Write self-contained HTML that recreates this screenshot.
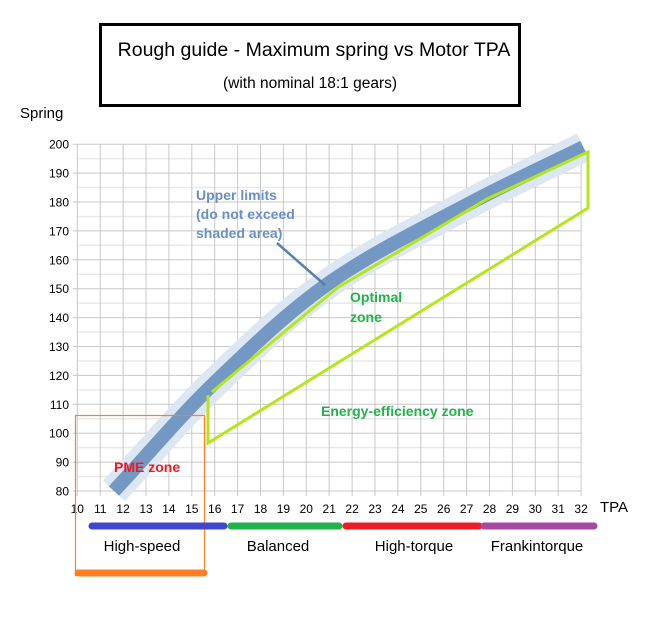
<!DOCTYPE html>
<html><head><meta charset="utf-8"><style>
html,body{margin:0;padding:0;background:#fff;}
svg{display:block;font-family:"Liberation Sans",Arial,sans-serif;}
</style></head><body>
<svg width="659" height="625" viewBox="0 0 659 625" xmlns="http://www.w3.org/2000/svg">
<rect width="659" height="625" fill="#fff"/>
<rect x="100.5" y="24.5" width="419" height="81" fill="#fff" stroke="#000" stroke-width="3"/>
<text x="314" y="56" font-size="19.5" text-anchor="middle" fill="#000">Rough guide - Maximum spring vs Motor TPA</text>
<text x="310" y="88" font-size="15.5" text-anchor="middle" fill="#000">(with nominal 18:1 gears)</text>
<text x="20" y="118" font-size="15" fill="#000">Spring</text>
<text x="600" y="512" font-size="15" fill="#000">TPA</text>
<g id="grid"></g>
<g id="fg"></g>
</svg>
<script>
(function(){
var ns="http://www.w3.org/2000/svg";
var svg=document.querySelector('svg');
function X(t){return 77.3+(t-10)*22.9;}
function Y(s){return 491-(s-80)*2.89;}
function el(n,a,p){var e=document.createElementNS(ns,n);for(var k in a)e.setAttribute(k,a[k]);(p||svg).appendChild(e);return e;}
var g=document.getElementById('grid');
for(var s=85;s<200;s+=10){el('line',{x1:77,x2:581,y1:Y(s),y2:Y(s),stroke:'#e8e8e8','stroke-width':1.5},g);}
for(var s=80;s<=200;s+=10){el('line',{x1:73,x2:581,y1:Y(s),y2:Y(s),stroke:'#c8c8c8','stroke-width':1},g);
 var t=el('text',{x:69,y:Y(s)+4.5,'font-size':12,'text-anchor':'end',fill:'#000'},g);t.textContent=s;}
for(var t=10;t<=32;t++){el('line',{x1:X(t),x2:X(t),y1:Y(200),y2:496,stroke:'#c8c8c8','stroke-width':1},g);
 var tx=el('text',{x:X(t),y:513,'font-size':12,'text-anchor':'middle',fill:'#000'},g);tx.textContent=t;}
var pts=[[11.6,80],[16,117.5],[21,152],[27,179],[32.1,199]].map(function(p){return [X(p[0]),Y(p[1])];});
var d='M'+pts[0][0]+','+pts[0][1];
for(var i=0;i<pts.length-1;i++){
 var p0=i==0?[2*pts[0][0]-pts[1][0],2*pts[0][1]-pts[1][1]]:pts[i-1],p1=pts[i],p2=pts[i+1],p3=i+2<pts.length?pts[i+2]:[2*p2[0]-p1[0],2*p2[1]-p1[1]];
 var c1=[p1[0]+(p2[0]-p0[0])/6,p1[1]+(p2[1]-p0[1])/6],c2=[p2[0]-(p3[0]-p1[0])/6,p2[1]-(p3[1]-p1[1])/6];
 d+=' C'+c1[0].toFixed(1)+','+c1[1].toFixed(1)+' '+c2[0].toFixed(1)+','+c2[1].toFixed(1)+' '+p2[0].toFixed(1)+','+p2[1].toFixed(1);
}
var f=document.getElementById('fg');
el('path',{d:d,fill:'none',stroke:'#dde6f3','stroke-width':30},f);
el('path',{d:d,fill:'none',stroke:'#7398c3','stroke-width':14},f);
el('path',{d:'M208,395 L208,443 L588,208 L588,152 L487,199 L337,288 L212,392',fill:'none',stroke:'#b5e61d','stroke-width':3},f);
el('line',{x1:277,y1:243,x2:325,y2:285,stroke:'#5b7fae','stroke-width':2.5},f);
function T(x,y,s,c,sz,w){var e=el('text',{x:x,y:y,fill:c,'font-size':sz,'font-weight':w||'bold'},f);e.textContent=s;}
T(196,200,'Upper limits','#6a8fc4',14);T(196,219,'(do not exceed','#6a8fc4',14);T(196,238,'shaded area)','#6a8fc4',14);
T(350,302,'Optimal','#22b14c',14);T(350,322,'zone','#22b14c',14);
T(321,416,'Energy-efficiency zone','#22b14c',14);
T(114,472,'PME zone','#ed1c24',14);
el('rect',{x:75.5,y:415.5,width:129,height:160,fill:'none',stroke:'#ff7f27','stroke-width':1.2},f);
el('line',{x1:78,x2:204,y1:573,y2:573,stroke:'#ff7f27','stroke-width':7,'stroke-linecap':'round'},f);
var bars=[[92,224,'#3f48cc'],[231,339,'#22b14c'],[346,479,'#ed1c24'],[484,594,'#a349a4']];
bars.forEach(function(b){el('line',{x1:b[0],x2:b[1],y1:526,y2:526,stroke:b[2],'stroke-width':7,'stroke-linecap':'round'},f);});
var labs=[[142,'High-speed'],[278,'Balanced'],[414,'High-torque'],[537,'Frankintorque']];
labs.forEach(function(l){var e=el('text',{x:l[0],y:551,'font-size':15,'text-anchor':'middle',fill:'#000'},f);e.textContent=l[1];});
})();
</script>
</body></html>
